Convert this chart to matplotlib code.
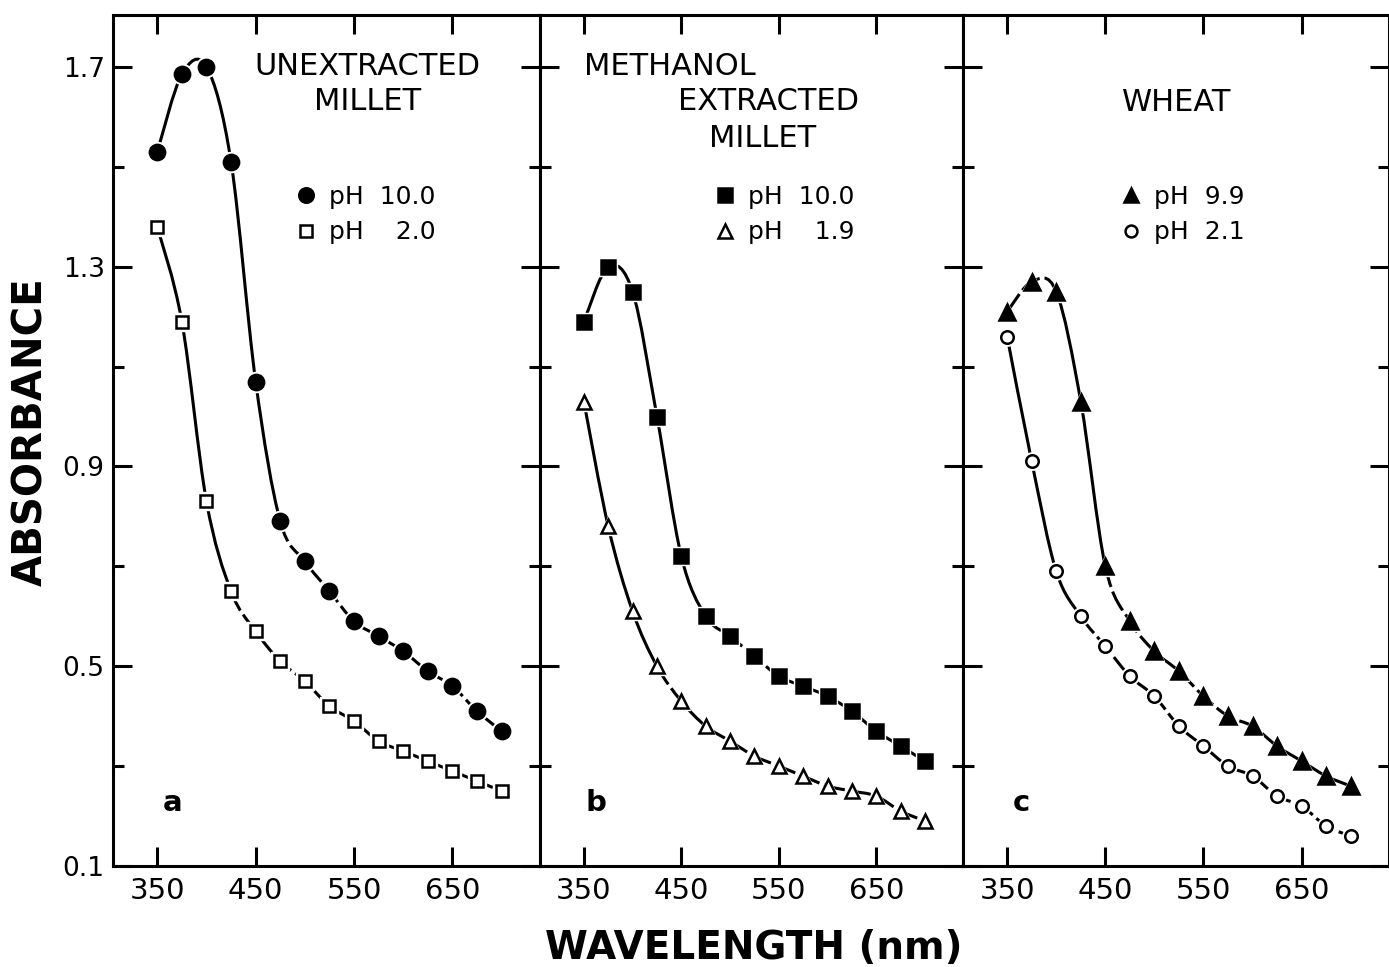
import numpy as np
import matplotlib
matplotlib.use("Agg")
import matplotlib.pyplot as plt
from matplotlib.path import Path
from matplotlib.patches import PathPatch

# wavelengths (nm) where absorbance was read
wavelength = [350, 375, 400, 425, 450, 475, 500, 525, 550, 575, 600, 625, 650, 675, 700]

# a: unextracted millet
a_ph10 = [1.53, 1.685, 1.70, 1.51, 1.07, 0.79, 0.71, 0.65, 0.59, 0.56, 0.53, 0.49, 0.46, 0.41, 0.37]
a_ph20 = [1.38, 1.19, 0.83, 0.65, 0.57, 0.51, 0.47, 0.42, 0.39, 0.35, 0.33, 0.31, 0.29, 0.27, 0.25]
# b: methanol extracted millet
b_ph10 = [1.19, 1.30, 1.25, 1.00, 0.72, 0.60, 0.56, 0.52, 0.48, 0.46, 0.44, 0.41, 0.37, 0.34, 0.31]
b_ph19 = [1.03, 0.78, 0.61, 0.50, 0.43, 0.38, 0.35, 0.32, 0.30, 0.28, 0.26, 0.25, 0.24, 0.21, 0.19]
# c: wheat
c_ph99 = [1.21, 1.27, 1.25, 1.03, 0.70, 0.59, 0.53, 0.49, 0.44, 0.40, 0.38, 0.34, 0.31, 0.28, 0.26]
c_ph21 = [1.16, 0.91, 0.69, 0.60, 0.54, 0.48, 0.44, 0.38, 0.34, 0.30, 0.28, 0.24, 0.22, 0.18, 0.16]

x_ticks = [350, 450, 550, 650]
y_major = [0.1, 0.5, 0.9, 1.3, 1.7]
y_minor = [0.3, 0.7, 1.1, 1.5]

plt.rcParams["font.family"] = ["DejaVu Sans"]

LW = 2.2
DASH = (0, (7, 1.6))


def smooth_path(xs, ys, i0, i1):
    # catmull-rom through the points, drawn as cubic bezier segments
    p = np.column_stack([xs, ys]).astype(float)
    n = len(p)
    verts = [p[i0]]
    codes = [Path.MOVETO]
    for i in range(i0, i1):
        pm = p[max(i - 1, 0)]
        p0 = p[i]
        p1 = p[i + 1]
        p2 = p[min(i + 2, n - 1)]
        verts += [p0 + (p1 - pm) / 6.0, p1 - (p2 - p0) / 6.0, p1]
        codes += [Path.CURVE4] * 3
    return Path(verts, codes)


def draw_series(ax, ys, pieces, marker, ms, filled, label):
    for i0, i1, style in pieces:
        ls = "-" if style == "solid" else DASH
        ax.add_patch(PathPatch(smooth_path(wavelength, ys, i0, i1), fill=False,
                               lw=LW, ec="black", linestyle=ls, zorder=2))
    # white halo so the line stops short of each symbol
    ax.plot(wavelength, ys, linestyle="none", marker=marker, ms=ms + 3.5,
            mfc="white", mec="white", zorder=3)
    h, = ax.plot(wavelength, ys, linestyle="none", marker=marker, ms=ms,
                 mfc="black" if filled else "white", mec="black", mew=1.8,
                 zorder=4, label=label)
    return h


W, H = 1389, 967
fig = plt.figure(figsize=(W / 100, H / 100), dpi=100)

bottom = 1 - 866 / H
height = (866 - 15) / H
edges = [113, 540, 963, 1389]
axes = []
for k in range(3):
    ax = fig.add_axes([edges[k] / W, bottom, (edges[k + 1] - edges[k]) / W, height])
    ax.set_xlim(305, 739)
    ax.set_ylim(0.1, 1.804)
    ax.set_xticks(x_ticks)
    ax.set_xticklabels([str(t) for t in x_ticks], fontsize=21)
    ax.set_yticks(y_major)
    ax.set_yticks(y_minor, minor=True)
    ax.tick_params(axis="both", which="both", direction="in", top=True, right=True,
                   width=2.2)
    ax.tick_params(axis="x", which="major", length=14, pad=8)
    ax.tick_params(axis="y", which="major", length=14, pad=6, labelsize=19)
    ax.tick_params(axis="y", which="minor", length=8)
    if k > 0:
        ax.tick_params(axis="y", which="both", labelleft=False)
    else:
        ax.set_yticklabels([f"{v:.1f}" for v in y_major])
    for sp in ax.spines.values():
        sp.set_linewidth(LW)
    axes.append(ax)

ax_a, ax_b, ax_c = axes

ha1 = draw_series(ax_a, a_ph10, [(0, 5, "solid"), (5, 14, "dash")], "o", 11, True, "pH  10.0")
ha2 = draw_series(ax_a, a_ph20, [(0, 3, "solid"), (3, 14, "dash")], "s", 9, False, "pH    2.0")
hb1 = draw_series(ax_b, b_ph10, [(0, 5, "solid"), (5, 14, "dash")], "s", 10, True, "pH  10.0")
hb2 = draw_series(ax_b, b_ph19, [(0, 3, "solid"), (3, 14, "dash")], "^", 10, False, "pH    1.9")
hc1 = draw_series(ax_c, c_ph99, [(0, 2, "dash"), (2, 4, "solid"), (4, 14, "dash")], "^", 11, True, "pH  9.9")
hc2 = draw_series(ax_c, c_ph21, [(0, 3, "solid"), (3, 14, "dash")], "o", 9, False, "pH  2.1")

title_kw = dict(fontsize=22, ha="center", va="center")
ax_a.text(0.595, 0.940, "UNEXTRACTED", transform=ax_a.transAxes, **title_kw)
ax_a.text(0.597, 0.898, "MILLET", transform=ax_a.transAxes, **title_kw)
ax_b.text(0.307, 0.940, "METHANOL", transform=ax_b.transAxes, **title_kw)
ax_b.text(0.541, 0.898, "EXTRACTED", transform=ax_b.transAxes, **title_kw)
ax_b.text(0.527, 0.855, "MILLET", transform=ax_b.transAxes, **title_kw)
ax_c.text(0.502, 0.897, "WHEAT", transform=ax_c.transAxes, **title_kw)

leg_kw = dict(loc="upper left", frameon=False, fontsize=18, handlelength=0.8,
              handletextpad=0.5, labelspacing=0.45, borderpad=0, borderaxespad=0,
              markerscale=0.95)
ax_a.legend(handles=[ha1, ha2], bbox_to_anchor=(0.4286, 0.800), **leg_kw)
ax_b.legend(handles=[hb1, hb2], bbox_to_anchor=(0.414, 0.800), **leg_kw)
ax_c.legend(handles=[hc1, hc2], bbox_to_anchor=(0.371, 0.800), **leg_kw)

for ax, letter, fx in [(ax_a, "a", 0.14), (ax_b, "b", 0.132), (ax_c, "c", 0.136)]:
    ax.text(fx, 0.074, letter, transform=ax.transAxes, fontsize=21,
            fontweight="bold", ha="center", va="center")

fig.text(31 / W, 1 - 432 / H, "ABSORBANCE", rotation=90, fontsize=29,
         fontweight="bold", ha="center", va="center")
fig.text(754 / W, 1 - 948 / H, "WAVELENGTH (nm)", fontsize=28,
         fontweight="bold", ha="center", va="center")

fig.savefig("out.png", dpi=100, facecolor="white")
